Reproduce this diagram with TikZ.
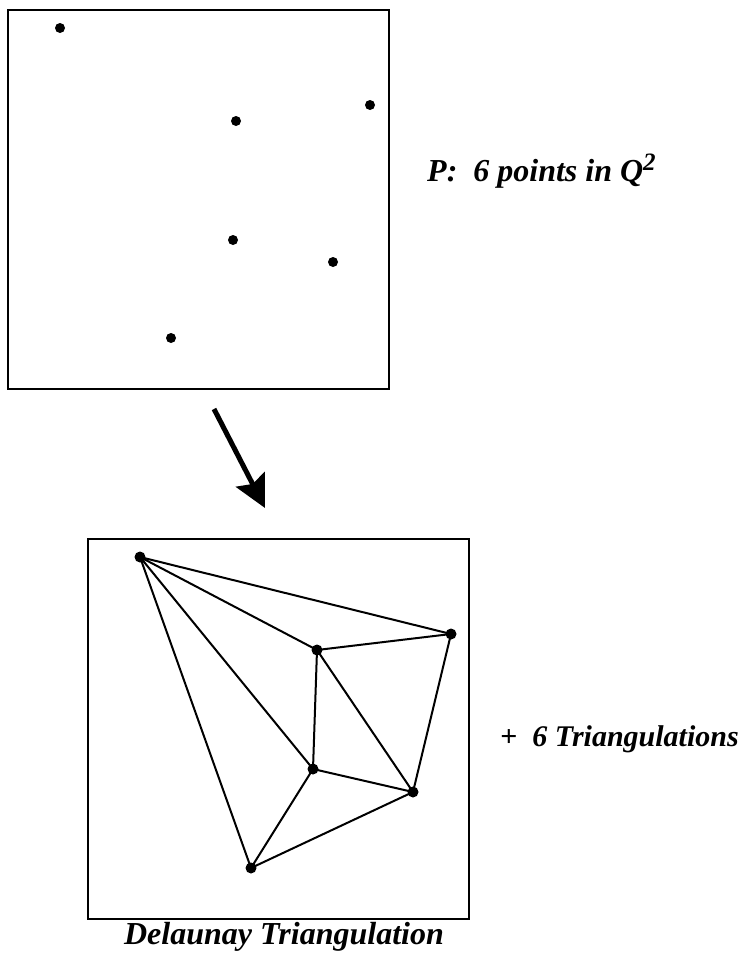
\documentclass[tikz,border=0pt]{standalone}
\usepackage{fontspec}
\setmainfont{Liberation Serif}
\usetikzlibrary{arrows.meta}
\begin{document}
\begin{tikzpicture}[x=1pt,y=-1pt,
    frame/.style={line width=1.5pt},
    edge/.style={line width=2pt},
    lbl/.style={font=\fontsize{32}{38}\selectfont\bfseries\itshape,inner sep=0pt}]
  \useasboundingbox (0,0) rectangle (748,953);

  % point set P
  \begin{scope}[shift={(8,10)}]
    \draw[frame] (0,0) rectangle (381,379);
    \foreach \n/\x/\y in {a/52/18,b/362/95,c/228/111,d/225/230,e/325/252,f/163/328} {
      \coordinate (p\n) at (\x,\y);
      \fill (p\n) circle (5pt);
    }
  \end{scope}
  \node[lbl,anchor=base west] (title) at (427,181)
    {P:\ \ 6 points in Q\raisebox{11pt}{\fontsize{25}{30}\selectfont 2}};

  % arrow
  \coordinate (from) at (214,409);
  \coordinate (to) at (265,508);
  \draw[line width=5pt,-{Stealth[length=32pt,width=32pt,inset=5pt]}] (from) -- (to);

  % Delaunay triangulation
  \begin{scope}[shift={(88,539)}]
    \draw[frame] (0,0) rectangle (381,380);
    \foreach \n/\x/\y in {a/52/18,b/363/95,c/229/111,d/225/230,e/325/253,f/163/329}
      \coordinate (q\n) at (\x,\y);
    \foreach \s/\t in {a/b,a/c,a/d,a/f,c/b,c/d,c/e,b/e,d/e,d/f,f/e}
      \draw[edge] (q\s) -- (q\t);
    \foreach \n in {a,b,c,d,e,f}
      \fill (q\n) circle (5.5pt);
  \end{scope}
  \node[lbl,font=\fontsize{30}{36}\selectfont\bfseries\itshape,anchor=base west] (plus)
    at (500,746) {+\ \ 6 Triangulations};
  \node[lbl,anchor=base] (name) at (284,944) {Delaunay Triangulation};
\end{tikzpicture}
\end{document}
